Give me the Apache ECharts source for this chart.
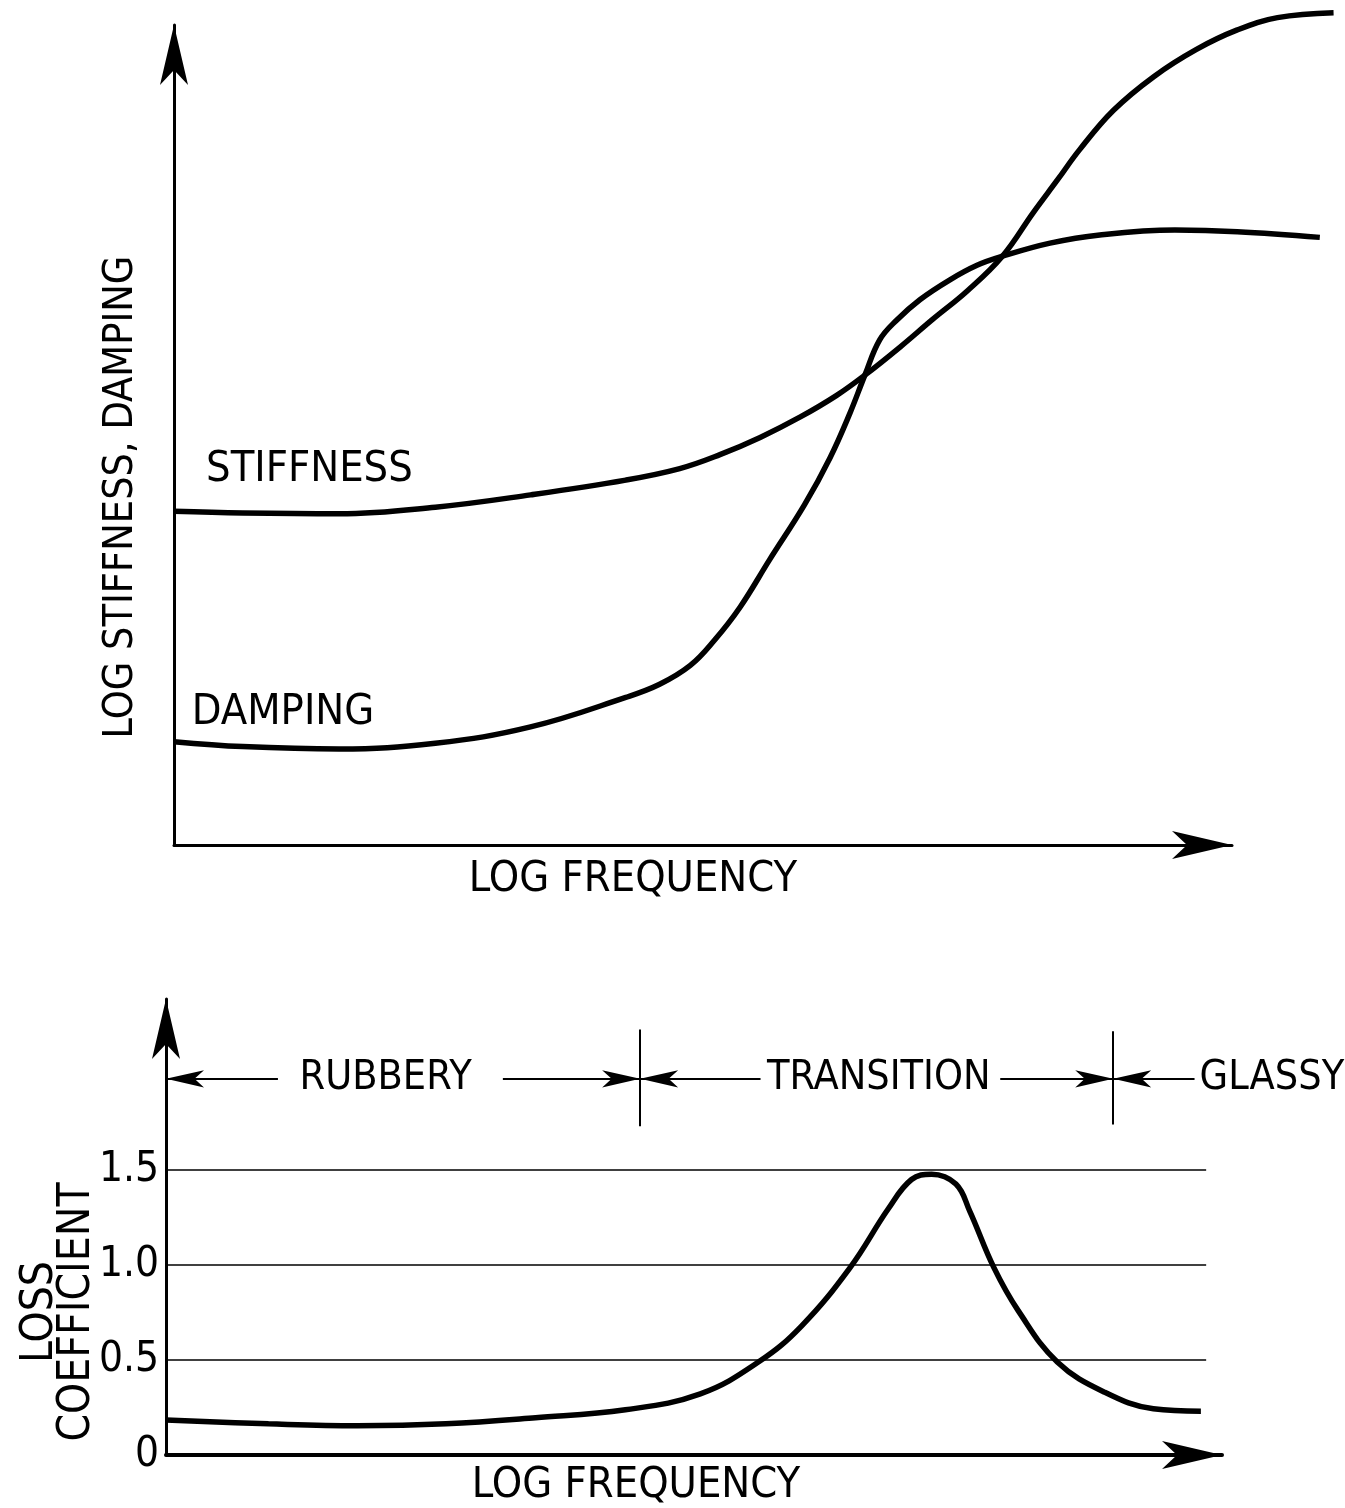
<!DOCTYPE html>
<html>
<head>
<meta charset="utf-8">
<script src="https://cdn.jsdelivr.net/npm/echarts@6/dist/echarts.min.js"></script>
<style>
html,body{margin:0;padding:0;background:#fff;}
#main{width:1345px;height:1508px;}
</style>
</head>
<body>
<div id="main"></div>
<script>
// top panel: log frequency (arbitrary units, axis arrow at 100) vs log stiffness / damping (arbitrary, arrow at 100)
let stiffness = [
    [0,40.7],[6.5,40.5],[15.6,40.4],[24.7,41.2],[33.7,42.7],[42.7,44.5],[47.8,45.9],
    [51.6,47.6],[55.4,49.7],[59.2,52.2],[62.6,54.8],[65.3,57.3],[68.6,60.7],[71.7,64.1],
    [75.0,67.6],[78.3,71.8],[81.2,77.1],[83.5,81.1],[85.6,84.8],[88.8,89.6],[92.6,93.7],
    [96.6,97.0],[100.5,99.4],[104.3,100.9],[109.6,101.5]
];
let damping = [
    [0,12.6],[6.5,12.0],[15.6,11.7],[24.7,12.4],[33.7,14.4],[42.7,18.0],[45.9,19.6],
    [48.8,21.9],[51.1,25.0],[53.5,29.0],[56.3,34.8],[59.6,41.5],[62.0,47.2],[63.9,52.7],
    [65.3,57.3],[66.7,61.6],[68.3,64.0],[70.5,66.5],[73.3,68.9],[75.9,70.7],[78.3,71.8],
    [82.8,73.4],[87.5,74.4],[94.6,75.0],[100.5,74.8],[108.3,74.1]
];
// bottom panel: loss coefficient
let lossCoef = [
    [0,0.184],[9.7,0.164],[18.1,0.154],[26.5,0.164],[35.0,0.196],[43.5,0.238],[50.6,0.322],
    [56.2,0.493],[60.2,0.68],[64.8,0.988],[68.4,1.296],[70.6,1.45],[72.5,1.478],[74.8,1.426],
    [76.1,1.285],[78.4,0.986],[80.7,0.76],[84.4,0.49],[88.9,0.33],[93.5,0.243],[98.0,0.23]
];
let lossTicks = [0.5, 1.0, 1.5];
let regionNames = ['RUBBERY', 'TRANSITION', 'GLASSY'];
let regionEdges = [0, 44.9, 89.7];

const FONT = "'Liberation Sans Narrow', 'DejaVu Sans Condensed', sans-serif";
const REG_Y = 1.98;

let myChart = echarts.init(document.getElementById("main"));

function arrowEnd(x, y) {
    return {coord:[x, y], symbol:'arrow', symbolSize:[13, 38], symbolOffset:[0, 0]};
}
function plainEnd(x, y) {
    return {coord:[x, y], symbol:'none'};
}

let gridLines = lossTicks.map(function (v) {
    return [
        {coord:[0, v], symbol:'none', lineStyle:{width:1.5}},
        {coord:[98.5, v], symbol:'none', lineStyle:{width:1.5}}
    ];
});
let regionLines = [
    [arrowEnd(regionEdges[0], REG_Y), plainEnd(10.6, REG_Y)],
    [plainEnd(31.9, REG_Y), arrowEnd(regionEdges[1], REG_Y)],
    [arrowEnd(regionEdges[1], REG_Y), plainEnd(56.3, REG_Y)],
    [plainEnd(79.0, REG_Y), arrowEnd(regionEdges[2], REG_Y)],
    [arrowEnd(regionEdges[2], REG_Y), plainEnd(97.4, REG_Y)],
    [plainEnd(regionEdges[1], 1.73), plainEnd(regionEdges[1], 2.24)],
    [plainEnd(regionEdges[2], 1.74), plainEnd(regionEdges[2], 2.23)]
];

let axisBase = {
    type:'value',
    axisLine:{show:true, lineStyle:{color:'#000', width:3}, symbol:['none','arrow'], symbolSize:[21,60], symbolOffset:[0,0]},
    axisTick:{show:false},
    splitLine:{show:false},
    axisLabel:{show:false},
    nameMoveOverlap:false,
    nameTextStyle:{color:'#000', fontFamily:FONT, fontSize:43}
};
let hiddenAxis = {type:'value', show:false, splitLine:{show:false}};

let option = {
    backgroundColor:'#fff',
    animation:false,
    textStyle:{fontFamily:FONT, color:'#000'},
    grid:[
        {left:174, top:25, width:1058, height:820},        // drawn axes of top panel
        {left:174, top:8.6, width:1163.8, height:836.4},   // curves of top panel (run past the arrow)
        {left:166, top:999, width:1056, height:456}
    ],
    xAxis:[
        Object.assign({}, axisBase, {
            gridIndex:0, min:0, max:100,
            name:'LOG FREQUENCY', nameLocation:'middle', nameGap:13,
            nameTextStyle:Object.assign({}, axisBase.nameTextStyle, {padding:[0,140,0,0]})
        }),
        Object.assign({}, hiddenAxis, {gridIndex:1, min:0, max:110}),
        Object.assign({}, axisBase, {
            gridIndex:2, min:0, max:100,
            axisLine:Object.assign({}, axisBase.axisLine, {lineStyle:{color:'#000', width:4}}),
            name:'LOG FREQUENCY', nameLocation:'middle', nameGap:9,
            nameTextStyle:Object.assign({}, axisBase.nameTextStyle, {padding:[0,116,0,0]})
        })
    ],
    yAxis:[
        Object.assign({}, axisBase, {
            gridIndex:0, min:0, max:100,
            name:'LOG STIFFNESS, DAMPING', nameLocation:'middle', nameRotate:90, nameGap:32,
            nameTextStyle:Object.assign({}, axisBase.nameTextStyle, {fontSize:41, padding:[0,124,0,0]})
        }),
        Object.assign({}, hiddenAxis, {gridIndex:1, min:0, max:102}),
        Object.assign({}, axisBase, {
            gridIndex:2, min:0, max:2.4, interval:0.5,
            axisLabel:{
                show:true, color:'#000', fontFamily:FONT, fontSize:42, margin:7,
                formatter:function (v) {
                    if (v > 1.5) return '';
                    return v === 0 ? '0' : v.toFixed(1);
                }
            },
            name:'LOSS\nCOEFFICIENT', nameLocation:'middle', nameRotate:90, nameGap:70,
            nameTextStyle:Object.assign({}, axisBase.nameTextStyle, {fontSize:44, lineHeight:37, padding:[0,170,0,0]})
        })
    ],
    series:[{
        name:'STIFFNESS',
        type:'line',
        xAxisIndex:1, yAxisIndex:1,
        data:stiffness,
        smooth:0.4,
        showSymbol:false,
        lineStyle:{color:'#000', width:5.5},
        markPoint:{
            symbol:'circle', symbolSize:0,
            label:{show:true, position:'inside', formatter:'{b}', color:'#000', fontFamily:FONT, fontSize:43},
            data:[{name:'STIFFNESS', coord:[12.8, 45.7]}]
        }
    },{
        name:'DAMPING',
        type:'line',
        xAxisIndex:1, yAxisIndex:1,
        data:damping,
        smooth:0.4,
        showSymbol:false,
        lineStyle:{color:'#000', width:5.5},
        markPoint:{
            symbol:'circle', symbolSize:0,
            label:{show:true, position:'inside', formatter:'{b}', color:'#000', fontFamily:FONT, fontSize:43},
            data:[{name:'DAMPING', coord:[10.3, 16.1]}]
        }
    },{
        name:'LOSS COEFFICIENT',
        type:'line',
        xAxisIndex:2, yAxisIndex:2,
        data:lossCoef,
        smooth:0.4,
        clip:false,
        showSymbol:false,
        lineStyle:{color:'#000', width:5.5},
        markLine:{
            silent:true,
            symbol:['none','none'],
            label:{show:false},
            lineStyle:{color:'#000', width:2, type:'solid'},
            data:gridLines.concat(regionLines)
        },
        markPoint:{
            symbol:'circle', symbolSize:0,
            label:{show:true, position:'inside', formatter:'{b}', color:'#000', fontFamily:FONT, fontSize:41},
            data:[
                {name:regionNames[0], coord:[20.8, REG_Y]},
                {name:regionNames[1], coord:[67.5, REG_Y]},
                {name:regionNames[2], coord:[97.4, REG_Y], label:{position:'right', distance:5}}
            ]
        }
    }]
};
myChart.setOption(option);
</script>
</body>
</html>
